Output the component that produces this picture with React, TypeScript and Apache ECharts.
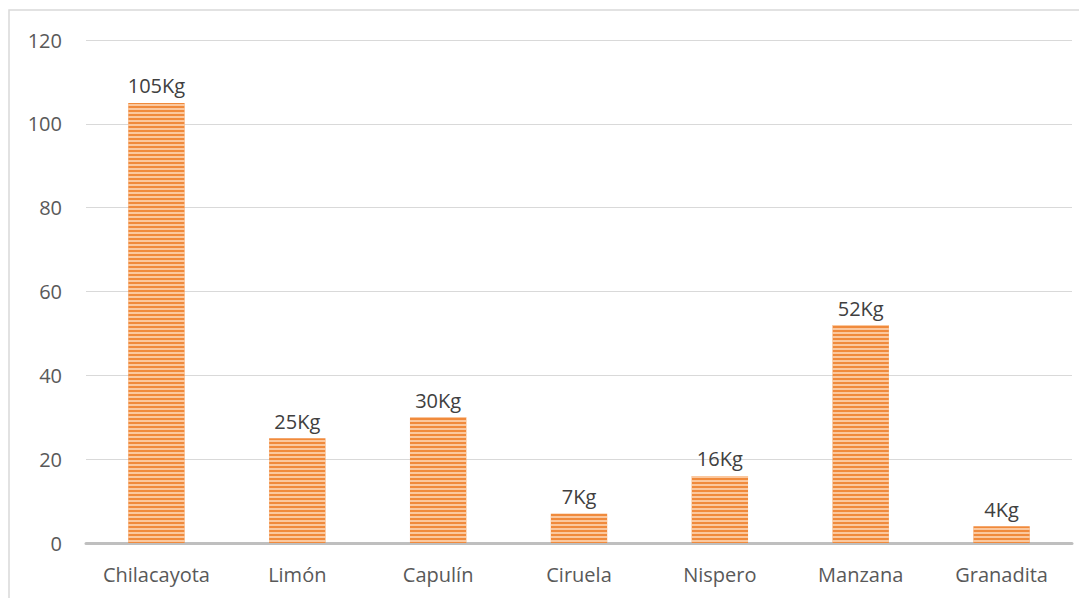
import React, { useEffect, useRef } from "react";
import * as echarts from "echarts";

const categories = ["Chilacayota", "Limón", "Capulín", "Ciruela", "Nispero", "Manzana", "Granadita"];
const values = [105, 25, 30, 7, 16, 52, 4];
const yTicks = { min: 0, max: 120, interval: 20 };

export default function App() {
  const ref = useRef<HTMLDivElement>(null);
  useEffect(() => {
    const chart = echarts.init(ref.current!, null, { renderer: "svg" });
    const font = "'Open Sans', 'Noto Sans', sans-serif";
    chart.setOption({
      animation: false,
      graphic: [
        {
          type: "rect",
          shape: { x: 1, y: 2, width: 1100, height: 620 },
          style: { fill: "none", stroke: "#D9D9D9", lineWidth: 1.5 },
          silent: true,
        },
      ],
      grid: { left: 78, right: 15, top: 32, bottom: 55, containLabel: false },
      xAxis: {
        type: "category",
        data: categories,
        axisLine: { lineStyle: { color: "#BFBFBF", width: 3 } },
        axisTick: { show: false },
        axisLabel: { color: "#595959", fontSize: 20, fontFamily: font, margin: 21 },
      },
      yAxis: {
        type: "value",
        min: yTicks.min,
        max: yTicks.max,
        interval: yTicks.interval,
        axisLine: { show: false },
        axisTick: { show: false },
        splitLine: { lineStyle: { color: "#D9D9D9", width: 1 } },
        axisLabel: { color: "#595959", fontSize: 20, fontFamily: font, margin: 24 },
      },
      series: [
        {
          type: "bar",
          data: values,
          barWidth: "40%",
          itemStyle: {
            color: "#F08A3C",
            decal: {
              symbol: "rect",
              symbolSize: 1,
              dashArrayX: [1, 0],
              dashArrayY: [2, 2],
              rotation: 0,
              color: "rgba(255,220,190,0.75)",
            },
          },
          label: {
            show: true,
            position: "top",
            distance: 7,
            formatter: "{c}Kg",
            color: "#404040",
            fontSize: 20,
            fontFamily: font,
          },
        },
      ],
    });
    return () => chart.dispose();
  }, []);
  return <div ref={ref} style={{ width: 1079, height: 590 }} />;
}
